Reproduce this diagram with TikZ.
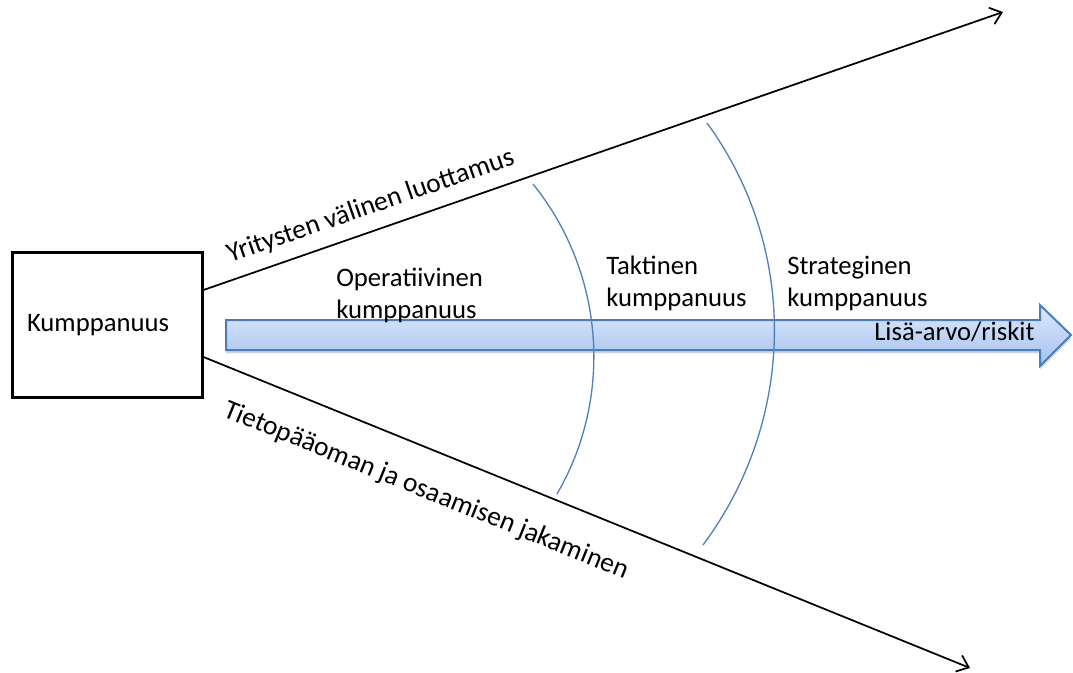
\documentclass[tikz,border=0pt]{standalone}
\usepackage{fontspec}
\setmainfont{Carlito}
\usetikzlibrary{arrows.meta,shadows}
\definecolor{arcblue}{RGB}{79,129,189}
\definecolor{arrowline}{RGB}{74,126,187}
\definecolor{arrowtop}{RGB}{222,233,251}
\definecolor{arrowbottom}{RGB}{163,193,238}
\tikzset{
  axisline/.style={line width=1.3pt,-{Straight Barb[length=8pt,width=13pt,line width=1.3pt]}},
  levelarc/.style={arcblue,line width=1pt},
  lbl/.style={font=\fontsize{20}{24}\selectfont,inner sep=0pt},
  sidelbl/.style={font=\fontsize{20.6}{24}\selectfont,inner sep=0pt,anchor=base west}
}
\begin{document}
\begin{tikzpicture}[x=0.75pt,y=-0.75pt]
    \useasboundingbox (0,0) rectangle (1073,673);

    % Partnership box
    \node[lbl,draw,line width=2.25pt,minimum width=142.5pt,minimum height=108pt,
          text width=120pt,align=left] (kump) at (107,325) {Kumppanuus};
    \coordinate (upstart) at ([yshift=26.25pt]kump.east);
    \coordinate (downstart) at ([yshift=-24pt]kump.east);
    \coordinate (upend) at (1003,12);
    \coordinate (downend) at (970,668);

    % Value arrow
    \path[draw=arrowline,line width=1.5pt,top color=arrowtop,bottom color=arrowbottom,
          drop shadow={shadow xshift=0pt,shadow yshift=-2.5pt,opacity=0.35}]
        (226,320) -- (1040,320) -- (1040,305) -- (1071,335) -- (1040,366) -- (1040,350) -- (226,350) -- cycle;
    \node[lbl,anchor=base west] (value) at (874,340) {Lisä-arvo/riskit};

    % Trust and knowledge axes
    \draw[axisline] (upstart) -- (upend);
    \draw[axisline] (downstart) -- (downend);
    \node[sidelbl,rotate=19.1] (trust) at (230,263) {Yritysten välinen luottamus};
    \node[sidelbl,rotate=-22.05] (share) at (222,416) {Tietopääoman ja osaamisen jakaminen};

    % Partnership levels
    \draw[levelarc] (533,184) .. controls (604,272) and (614,396) .. (557,494);
    \draw[levelarc] (707,123) .. controls (799,249) and (796,420) .. (703,545);
    \node[lbl,align=left,anchor=north west] (oper) at (336,268) {Operatiivinen\\kumppanuus};
    \node[lbl,align=left,anchor=north west] (takt) at (606,256) {Taktinen\\kumppanuus};
    \node[lbl,align=left,anchor=north west] (strat) at (787,256) {Strateginen\\kumppanuus};
\end{tikzpicture}
\end{document}
